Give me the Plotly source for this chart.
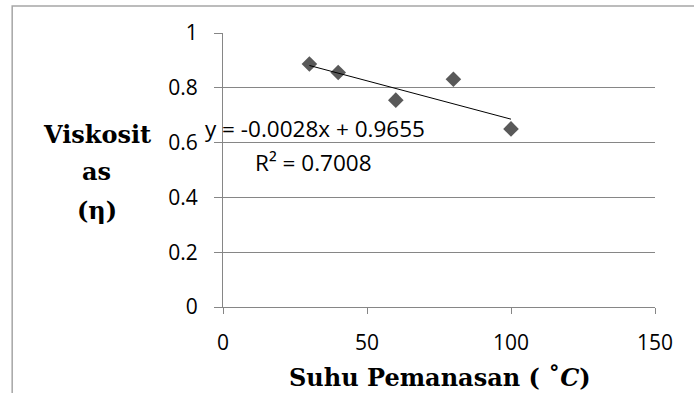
import plotly.graph_objects as go

# Data
suhu = [30, 40, 60, 80, 100]
viskositas = [0.887, 0.856, 0.755, 0.831, 0.650]
x_ticks = [0, 50, 100, 150]
y_ticks = [0, 0.2, 0.4, 0.6, 0.8, 1]
y_tick_labels = ["0", "0.2", "0.4", "0.6", "0.8", "1"]
eq_text = "y = -0.0028x + 0.9655"
r2_text = "R² = 0.7008"
slope, intercept = -0.0028, 0.9655

tick_font = dict(family="Open Sans", size=21, color="#000000")
title_font = dict(family="DejaVu Serif", size=24, color="#000000")
label_font = dict(family="Open Sans", size=22.5, color="#000000")

fig = go.Figure()

fig.add_trace(go.Scatter(
    x=suhu, y=viskositas, mode="markers",
    marker=dict(symbol="diamond", size=12, color="#595959", line=dict(width=0)),
    showlegend=False, hoverinfo="skip", cliponaxis=False))

trend_x = [min(suhu), max(suhu)]
trend_y = [slope * v + intercept for v in trend_x]
fig.add_trace(go.Scatter(
    x=trend_x, y=trend_y, mode="lines",
    line=dict(color="#000000", width=1),
    showlegend=False, hoverinfo="skip"))

ann = [
    dict(text="<b>Viskosit</b>", x=-0.2917, y=0.628),
    dict(text="<b>as</b>", x=-0.2917, y=0.493),
    dict(text="<b>(η)</b>", x=-0.2917, y=0.354),
    dict(text="<b>Suhu Pemanasan ( ˚<i>C</i>)</b>", x=0.502, y=-0.2555),
]
annotations = [dict(a, xref="paper", yref="paper", showarrow=False, font=title_font,
                    xanchor="center", yanchor="middle") for a in ann]
annotations += [
    dict(text=eq_text, xref="paper", yref="paper", x=-0.0463, y=0.653, xanchor="left",
         yanchor="middle", showarrow=False, font=label_font),
    dict(text=r2_text, xref="paper", yref="paper", x=0.0694, y=0.529, xanchor="left",
         yanchor="middle", showarrow=False, font=label_font),
]

fig.update_layout(
    width=694, height=393,
    margin=dict(l=223, r=39, t=33, b=86),
    paper_bgcolor="#ffffff", plot_bgcolor="#ffffff",
    xaxis=dict(range=[0, 150], tickvals=x_ticks, ticktext=[str(v) for v in x_ticks],
               showgrid=False, zeroline=False, showline=True, linecolor="#868686", linewidth=1,
               ticks="outside", ticklen=6, tickcolor="#868686", tickfont=tick_font,
               ticklabelstandoff=11, automargin=False),
    yaxis=dict(range=[0, 1], tickvals=y_ticks, ticktext=y_tick_labels,
               showgrid=True, gridcolor="#868686", gridwidth=1, zeroline=False,
               showline=True, linecolor="#868686", linewidth=1,
               ticks="outside", ticklen=8, tickcolor="#868686", tickfont=tick_font,
               ticklabelstandoff=12, automargin=False),
    shapes=[dict(type="rect", xref="paper", yref="paper", x0=-0.488, x1=3, y0=-3, y1=1.0985,
                 line=dict(color="#a6a6a6", width=1.5), fillcolor="rgba(0,0,0,0)", layer="below")],
    annotations=annotations,
)

fig.write_html("out.html", config={"displayModeBar": False},
               post_script="document.body.style.margin='0';document.body.style.overflow='hidden';")
